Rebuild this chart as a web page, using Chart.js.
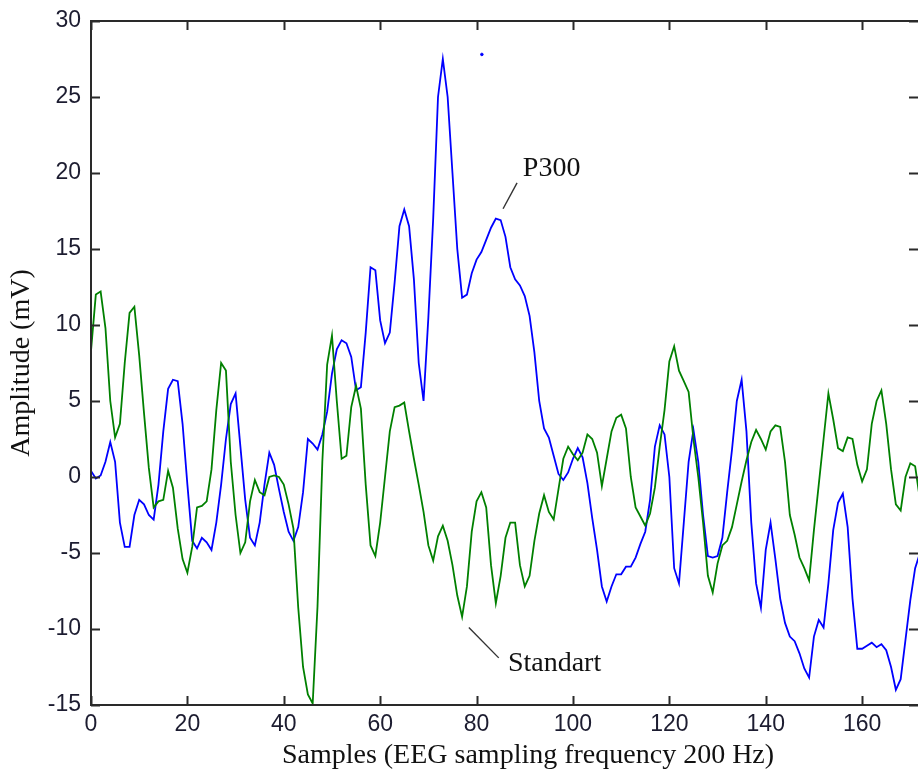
<!DOCTYPE html>
<html>
<head>
<meta charset="utf-8">
<script src="https://cdn.jsdelivr.net/npm/chart.js@4.4.1/dist/chart.umd.min.js"></script>
<style>
  html, body { margin: 0; padding: 0; background: #ffffff; }
  #wrap { position: relative; width: 918px; height: 776px; }
</style>
</head>
<body>
<div id="wrap"><canvas id="c" width="918" height="776"></canvas></div>
<script>
// ---- Data ----
// Sample index = position in the arrays (0, 1, 2, ...)
const p300 = [
  0.4, -0.1, 0.1, 1.0, 2.3, 1.0, -3.0, -4.6, -4.6, -2.5,
  -1.5, -1.8, -2.5, -2.8, -0.5, 3.0, 5.8, 6.4, 6.3, 3.5,
  -0.5, -4.2, -4.7, -4.0, -4.3, -4.8, -3.0, -0.5, 2.5, 4.8,
  5.5, 2.0, -1.5, -4.0, -4.5, -3.0, -0.5, 1.6, 0.8, -0.8,
  -2.3, -3.6, -4.2, -3.3, -1.0, 2.5, 2.2, 1.8, 2.8, 4.3,
  6.8, 8.4, 9.0, 8.8, 7.9, 5.7, 5.9, 9.5, 13.8, 13.6,
  10.3, 8.8, 9.5, 12.8, 16.5, 17.6, 16.5, 13.0, 7.5, 5.0,
  10.5, 17.0, 25.0, 27.5, 25.0, 20.0, 15.0, 11.8, 12.0, 13.4,
  14.3, 14.8, 15.6, 16.4, 17.0, 16.9, 15.8, 13.8, 13.0, 12.6,
  11.9, 10.6, 8.2, 5.0, 3.2, 2.6, 1.4, 0.2, -0.2, 0.3,
  1.2, 1.9, 1.3, -0.4, -2.7, -4.8, -7.2, -8.2, -7.2, -6.4,
  -6.4, -5.9, -5.9, -5.3, -4.4, -3.6, -1.5, 2.0, 3.4, 2.8,
  0.0, -6.0, -7.0, -3.0, 1.0, 3.1, 1.0, -2.5, -5.2, -5.3,
  -5.2, -4.0, -1.0, 1.8, 5.0, 6.4, 3.0, -3.0, -7.0, -8.6,
  -4.8, -3.0, -5.4, -8.0, -9.6, -10.5, -10.8, -11.6, -12.6, -13.2,
  -10.5, -9.4, -9.9, -7.0, -3.5, -1.7, -1.1, -3.3, -8.0, -11.3,
  -11.3, -11.1, -10.9, -11.2, -11.0, -11.4, -12.5, -14.0, -13.3, -10.7,
  -8.1, -6.0, -5.0
];
const standart = [
  8.3, 12.0, 12.2, 9.8, 5.0, 2.6, 3.5, 7.5, 10.8, 11.2,
  8.0, 4.2, 0.6, -2.0, -1.6, -1.5, 0.4, -0.7, -3.4, -5.4,
  -6.3, -4.6, -2.0, -1.9, -1.6, 0.5, 4.4, 7.5, 7.0, 1.0,
  -2.5, -5.0, -4.3, -1.6, -0.2, -1.0, -1.2, 0.0, 0.1, 0.0,
  -0.5, -1.8, -3.4, -8.6, -12.5, -14.3, -14.9, -8.5, 1.0, 7.4,
  9.3, 5.0, 1.2, 1.4, 4.6, 6.0, 4.5, -0.5, -4.5, -5.2,
  -3.0, 0.0, 3.0, 4.6, 4.7, 4.9, 3.0, 1.2, -0.5, -2.3,
  -4.5, -5.5, -3.9, -3.2, -4.2, -5.8, -7.8, -9.2, -7.2, -3.6,
  -1.6, -1.0, -2.0, -5.8, -8.3, -6.5, -4.0, -3.0, -3.0, -5.8,
  -7.2, -6.5, -4.2, -2.4, -1.2, -2.3, -2.8, -0.8, 1.2, 2.0,
  1.5, 1.1, 1.6, 2.8, 2.5, 1.6, -0.6, 1.2, 3.0, 3.9,
  4.1, 3.2, 0.0, -2.0, -2.6, -3.2, -2.4, -0.7, 2.0, 4.4,
  7.6, 8.6, 7.0, 6.3, 5.6, 2.5, 0.0, -3.0, -6.5, -7.6,
  -5.7, -4.5, -4.2, -3.3, -1.8, -0.3, 1.1, 2.3, 3.1, 2.5,
  1.8, 3.0, 3.4, 3.3, 1.0, -2.5, -3.8, -5.3, -6.0, -6.8,
  -3.5, -0.5, 2.5, 5.5, 3.8, 1.9, 1.7, 2.6, 2.5, 0.8,
  -0.3, 0.5, 3.5, 5.0, 5.7, 3.5, 0.5, -1.8, -2.2, 0.0,
  0.9, 0.7, -1.5
];
// stray single blue pixel visible above the P300 peak
const strayX = [81.1];
const strayY = [27.8];

const xTicks = [0, 20, 40, 60, 80, 100, 120, 140, 160];
const yTicks = [-15, -10, -5, 0, 5, 10, 15, 20, 25, 30];

const xTitle = 'Samples (EEG sampling frequency 200 Hz)';
const yTitle = 'Amplitude (mV)';

// annotation labels (data coordinates) — style/position config, not data
const labels = [
  { text: 'P300', tx: 89.6, ty: 20.3, line: [85.5, 17.65, 88.4, 19.35] },
  { text: 'Standart', tx: 86.5, ty: -12.25, line: [78.4, -9.9, 84.6, -11.9] }
];

const toXY = arr => arr.map((v, i) => ({ x: i, y: v }));

const SERIF = '"Liberation Serif", "Times New Roman", serif';
const SANS = '"Liberation Sans", Arial, sans-serif';
const AXIS_COLOR = '#2a2a2a';

// frame geometry in canvas pixels (matches the reference crop)
const FRAME = { left: 91, top: 21, right: 919, bottom: 705 };

const boxPlugin = {
  id: 'boxAxes',
  afterLayout(chart) {
    // pin the plotting frame to the reference geometry
    const a = chart.chartArea;
    a.left = FRAME.left; a.top = FRAME.top; a.right = FRAME.right; a.bottom = FRAME.bottom;
    a.width = a.right - a.left; a.height = a.bottom - a.top;
    const { x, y } = chart.scales;
    x.left = a.left; x.right = a.right; x.width = a.width;
    x.top = a.bottom; x.bottom = a.bottom + 71; x.height = 71;
    y.top = a.top; y.bottom = a.bottom; y.height = a.height;
    y.left = 0; y.right = a.left; y.width = a.left;
    x.configure(); y.configure();
  },
  afterDatasetsDraw(chart) {
    const { ctx, chartArea: a, scales: { x, y } } = chart;
    ctx.save();
    ctx.strokeStyle = AXIS_COLOR;
    ctx.lineWidth = 2;
    ctx.beginPath();
    ctx.rect(a.left, a.top, a.right - a.left, a.bottom - a.top);
    ctx.stroke();
    const tl = 9;
    ctx.beginPath();
    xTicks.forEach(v => {
      const px = Math.round(x.getPixelForValue(v)) + 0.5;
      ctx.moveTo(px, a.bottom); ctx.lineTo(px, a.bottom - tl);
      ctx.moveTo(px, a.top); ctx.lineTo(px, a.top + tl);
    });
    yTicks.forEach(v => {
      const py = Math.round(y.getPixelForValue(v)) + 0.5;
      ctx.moveTo(a.left, py); ctx.lineTo(a.left + tl, py);
      ctx.moveTo(a.right - 1, py); ctx.lineTo(a.right - 1 - tl, py);
    });
    ctx.stroke();

    // annotations
    ctx.strokeStyle = '#333333';
    ctx.lineWidth = 1.4;
    ctx.fillStyle = '#111111';
    ctx.font = '28px ' + SERIF;
    ctx.textBaseline = 'middle';
    ctx.textAlign = 'left';
    labels.forEach(l => {
      ctx.beginPath();
      ctx.moveTo(x.getPixelForValue(l.line[0]), y.getPixelForValue(l.line[1]));
      ctx.lineTo(x.getPixelForValue(l.line[2]), y.getPixelForValue(l.line[3]));
      ctx.stroke();
      ctx.fillText(l.text, x.getPixelForValue(l.tx), y.getPixelForValue(l.ty));
    });

    // x-axis title (offset to the right as in the reference)
    ctx.textAlign = 'center';
    ctx.fillText(xTitle, 528, 756);
    ctx.restore();
  }
};

new Chart(document.getElementById('c'), {
  type: 'line',
  data: {
    datasets: [
      {
        label: 'Standart',
        data: toXY(standart),
        borderColor: '#008000',
        borderWidth: 1.8,
        pointRadius: 0,
        tension: 0,
        fill: false
      },
      {
        label: 'P300',
        data: toXY(p300),
        borderColor: '#0000ff',
        borderWidth: 1.8,
        pointRadius: 0,
        tension: 0,
        fill: false
      },
      {
        type: 'scatter',
        label: 'stray',
        data: strayX.map((v, i) => ({ x: v, y: strayY[i] })),
        backgroundColor: '#0000ff',
        borderColor: '#0000ff',
        pointRadius: 1.3,
        showLine: false
      }
    ]
  },
  options: {
    responsive: false,
    animation: false,
    maintainAspectRatio: false,
    layout: { padding: { top: 21, right: 0, left: 0, bottom: 0 } },
    plugins: { legend: { display: false }, tooltip: { enabled: false } },
    scales: {
      x: {
        type: 'linear',
        min: 0,
        max: 171.8,
        grid: { display: false, drawTicks: false, tickLength: 0 },
        border: { display: false },
        afterBuildTicks: s => { s.ticks = xTicks.map(v => ({ value: v })); },
        afterFit: s => { s.height = 71; s.paddingLeft = 0; s.paddingRight = 0; },
        ticks: {
          padding: 6,
          maxRotation: 0,
          color: '#1c1c30',
          font: { family: SANS, size: 23 }
        },
        title: { display: false }
      },
      y: {
        type: 'linear',
        min: -15,
        max: 30,
        grid: { display: false, drawTicks: false, tickLength: 0 },
        border: { display: false },
        afterBuildTicks: s => { s.ticks = yTicks.map(v => ({ value: v })); },
        afterFit: s => { s.width = 91; s.paddingTop = 0; s.paddingBottom = 0; },
        ticks: {
          padding: 10,
          color: '#1c1c30',
          font: { family: SANS, size: 23 }
        },
        title: {
          display: true,
          text: yTitle,
          color: '#111111',
          padding: { top: 5, bottom: 0 },
          font: { family: SERIF, size: 28 }
        }
      }
    }
  },
  plugins: [boxPlugin]
});
</script>
</body>
</html>
